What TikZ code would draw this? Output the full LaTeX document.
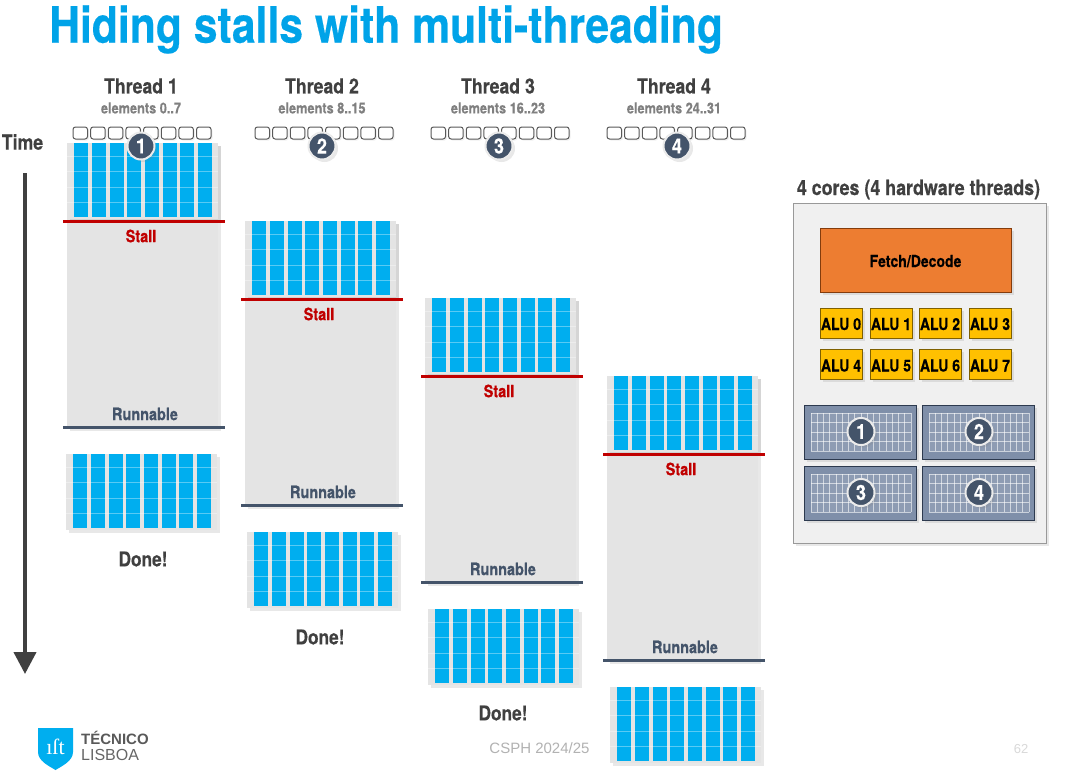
\documentclass[tikz,border=0pt]{standalone}
\usepackage{fontspec}
\setmainfont[FakeStretch=0.85,FakeBold=0.35]{TeX Gyre Heros}
\newfontfamily\plainsans{Liberation Sans}
\newfontfamily\logoserif{Liberation Serif}
\usetikzlibrary{arrows.meta,shadows}
\definecolor{titleblue}{HTML}{00A3E8}
\definecolor{cellblue}{HTML}{00AEEF}
\definecolor{panelgray}{HTML}{E4E4E4}
\definecolor{darktext}{HTML}{404040}
\definecolor{slateblue}{HTML}{44546A}
\definecolor{stallred}{HTML}{C00000}
\definecolor{alufill}{HTML}{FFC000}
\definecolor{aluedge}{HTML}{7F6000}
\definecolor{corefill}{HTML}{7F8FA9}
\definecolor{coreedge}{HTML}{2D3A4F}
\definecolor{fetchfill}{HTML}{ED7D31}
\definecolor{fetchedge}{HTML}{843C0C}
\tikzset{
	softshadow/.style={drop shadow={shadow xshift=2.5pt,shadow yshift=-2.5pt,opacity=0.18}},
	label/.style={font=\bfseries\fontsize{#1}{#1}\selectfont,inner sep=0pt},
	threadname/.style={label=20.8,text=darktext},
	elemname/.style={label=15,text=black!50},
	statename/.style={label=17,text=slateblue},
	stallname/.style={label=17,text=stallred},
	donename/.style={label=20.3,text=darktext},
	badge/.style={circle,minimum size=27pt,inner sep=0pt,fill=slateblue,draw=black!8,line width=2pt,text=white,
		font=\bfseries\fontsize{21}{21}\selectfont,softshadow},
	alubox/.style={rectangle,minimum width=42pt,minimum height=30pt,inner sep=0pt,text height=14pt,text depth=0pt,fill=alufill,
		draw=aluedge,line width=1pt,text=black,font=\bfseries\fontsize{16.5}{16.5}\selectfont,softshadow},
	stateline/.style={line width=3pt},
}
% grid of blue columns, left and top edge
\newcommand{\bluegrid}[2]{
	\fill[panelgray,softshadow] (#1,#2) rectangle ++(151,76);
	\foreach \c in {6.7,25,43,60,78,96,113,131} \fill[cellblue] (#1+\c,#2) rectangle ++(14,74);
	\foreach \r in {13,28.7,44.3,59.7} \draw[white,opacity=0.35,line width=1pt] (#1,#2+\r) -- ++(151,0);
}
% one core with its register grid
\newcommand{\coregrid}[3]{
	\fill[fill=corefill,draw=coreedge,line width=1pt,softshadow] (#1,#2) rectangle ++(112.5,54);
	\fill[white,opacity=0.12] (#1+7,#2+8) rectangle ++(100,38);
	\foreach \c in {0,6.25,...,100} \draw[white,opacity=0.6,line width=0.8pt] (#1+7+\c,#2+8) -- ++(0,38);
	\foreach \r in {0,9.5,...,38} \draw[white,opacity=0.6,line width=0.8pt] (#1+7,#2+8+\r) -- ++(100,0);
	\node[badge] (core#3) at (#1+57,#2+26.5) {#3};
}
\begin{document}
\begin{tikzpicture}[x=1pt,y=-1pt]
	\useasboundingbox (0,0) rectangle (1075,771);
	\fill[white] (0,0) rectangle (1075,771);
	\node[label=50.2,text=titleblue,anchor=west] (title) at (49,29.5) {Hiding stalls with multi-threading};
	\node[label=20.8,text=darktext] (timelabel) at (22.5,142) {Time};
	\coordinate (timetop) at (25,173);
	\coordinate (timeend) at (25,674);
	\draw[line width=4pt,darktext,-{Triangle[length=22pt,width=22pt]}] (timetop) -- (timeend);

	% threads: number, label x, cells x, badge x, panel x, grid x, panel top, elements
	\foreach \n/\lx/\cx/\bx/\px/\gx/\t/\el in {1/141/73/141/67/66/143/0..7,2/322/255/322/245/247/221/8..15,3/498/431/499/425/428/298/16..23,4/674/607/677/607/610/376/24..31}{
		\node[threadname] (thread\n) at (\lx,86) {Thread \n};
		\node[elemname] (elem\n) at (\lx,108) {elements \el};
		\fill[panelgray,softshadow] (\px,\t) rectangle ++(151,285);
		\bluegrid{\px}{\t}
		\draw[stateline,stallred] (\px-4,\t+78) -- ++(162,0);
		\draw[stateline,slateblue] (\px-4,\t+284.5) -- ++(162,0);
		\node[stallname] (stall\n) at (\px+74,\t+93) {Stall};
		\node[statename] (run\n) at (\px+78,\t+271) {Runnable};
		\bluegrid{\gx}{\t+311}
		\foreach \k in {0,...,7} \draw[rounded corners=2.5pt,fill=white,draw=black!65,line width=1pt,drop shadow={shadow xshift=1.5pt,shadow yshift=-1.5pt,opacity=0.12}] (\cx+\k*17.65,127) rectangle ++(14.5,12);
		\node[badge] (badge\n) at (\bx,146) {\n};
	}
	\node[donename] (done1) at (143,559) {Done!};
	\node[donename] (done2) at (320,637) {Done!};
	\node[donename] (done3) at (503,713) {Done!};

	% the chip
	\node[label=21,text=darktext] (chiplabel) at (918.5,189.5) {4 cores (4 hardware threads)};
	\fill[black!6,draw=black!40,line width=1pt,softshadow] (793,203) rectangle (1046,543);
	\node[rectangle,minimum width=191pt,minimum height=64pt,inner sep=0pt,text height=14pt,text depth=0pt,fill=fetchfill,draw=fetchedge,line width=1pt,
		font=\bfseries\fontsize{16.5}{16.5}\selectfont,softshadow] (fetch) at (915.5,260) {Fetch/Decode};
	\foreach \n/\x/\y in {0/841/323,1/891/323,2/940/323,3/990/323,4/841/364.5,5/891/364.5,6/940/364.5,7/990/364.5}
		\node[alubox] (alu\n) at (\x,\y) {ALU \n};
	\coregrid{804}{405}{1}
	\coregrid{922}{405}{2}
	\coregrid{804}{466}{3}
	\coregrid{922}{466}{4}

	% logo and footer
	\fill[cellblue] (38,728) -- (73,728) -- (73,752) .. controls (73,761) and (62,766) .. (55.5,770) .. controls (49,766) and (38,761) .. (38,752) -- cycle;
	\node[text=white,font=\logoserif\fontsize{22}{22}\selectfont,inner sep=0pt] (logoist) at (55.5,747) {ıſt};
	\node[font=\plainsans\bfseries\fontsize{15}{15}\selectfont,text=black!65,anchor=west,inner sep=0pt] (logotop) at (81,738) {TÉCNICO};
	\node[font=\plainsans\fontsize{16}{16}\selectfont,text=black!60,anchor=west,inner sep=0pt] (logobot) at (81,755) {LISBOA};
	\node[font=\plainsans\fontsize{15}{15}\selectfont,text=black!30,inner sep=0pt] (course) at (539.5,748) {CSPH 2024/25};
	\node[font=\plainsans\fontsize{13}{13}\selectfont,text=black!15,inner sep=0pt] (pagenum) at (1021,749) {62};
\end{tikzpicture}
\end{document}
